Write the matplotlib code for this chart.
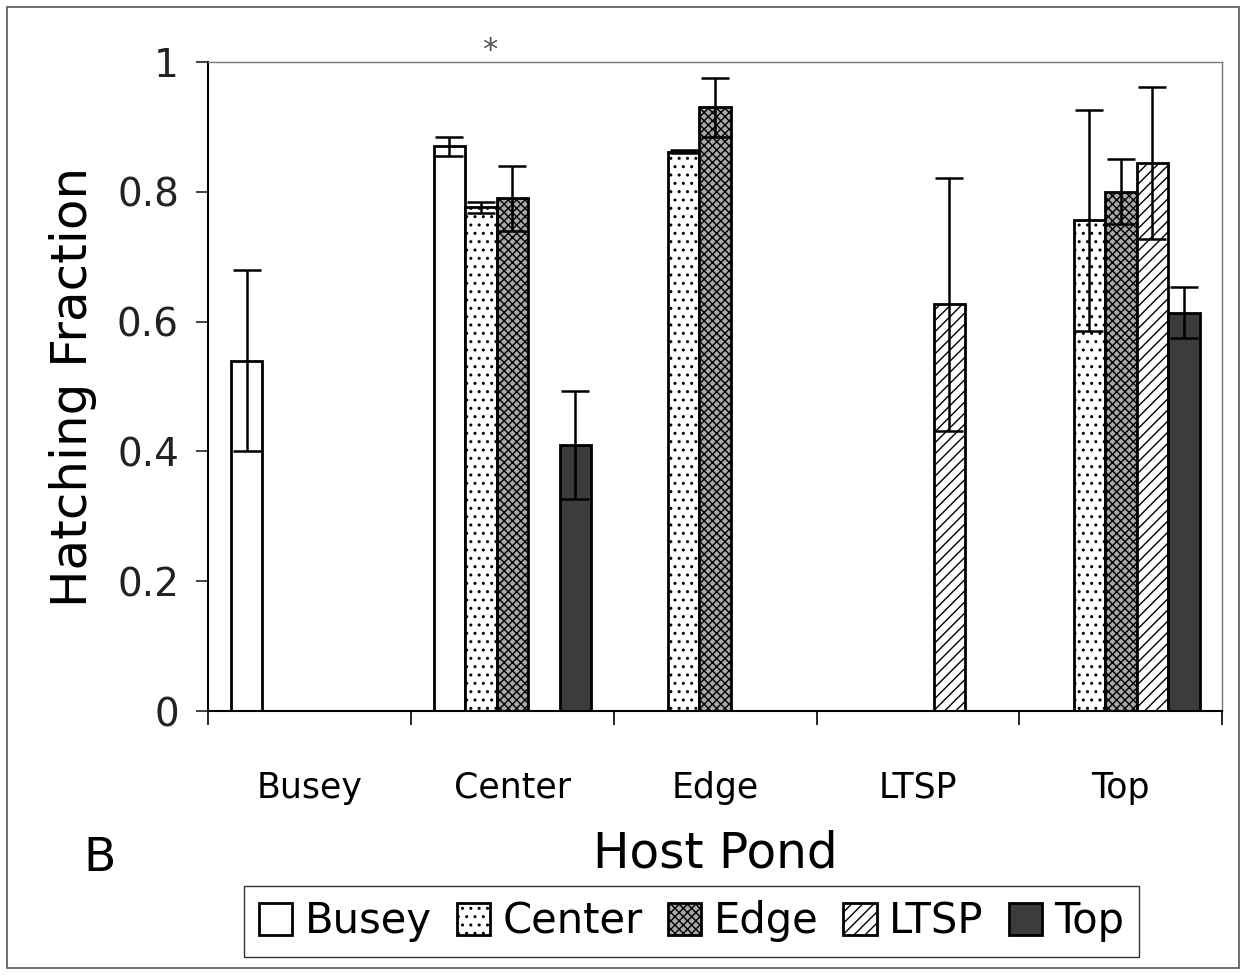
import numpy as np
import matplotlib
matplotlib.use('Agg')
import matplotlib.pyplot as plt
from matplotlib.patches import Rectangle

# host ponds on the x axis, one bar series per source pond
ponds = ['Busey', 'Center', 'Edge', 'LTSP', 'Top']
series = ['Busey', 'Center', 'Edge', 'LTSP', 'Top']

nan = np.nan
busey_vals = [0.54, 0.87, nan, nan, nan]
center_vals = [nan, 0.776, 0.862, nan, 0.756]
edge_vals = [nan, 0.79, 0.93, nan, 0.80]
ltsp_vals = [nan, nan, nan, 0.627, 0.845]
top_vals = [nan, 0.41, nan, nan, 0.614]

busey_err = [0.14, 0.015, nan, nan, nan]
center_err = [nan, 0.008, 0.003, nan, 0.17]
edge_err = [nan, 0.05, 0.045, nan, 0.05]
ltsp_err = [nan, nan, nan, 0.195, 0.117]
top_err = [nan, 0.083, nan, nan, 0.04]

values = [busey_vals, center_vals, edge_vals, ltsp_vals, top_vals]
errors = [busey_err, center_err, edge_err, ltsp_err, top_err]

styles = [
    dict(facecolor='white', hatch=None),
    dict(facecolor='white', hatch='..'),
    dict(facecolor='#a8a8a8', hatch='xxxx'),
    dict(facecolor='white', hatch='///'),
    dict(facecolor='#3c3c3c', hatch=None),
]

plt.rcParams['hatch.linewidth'] = 1.0

fig = plt.figure(figsize=(12.46, 9.76), dpi=100)
ax = fig.add_axes([0.167, 0.2715, 0.814, 0.665])

x = np.arange(len(ponds))
width = 0.155
for i, (name, vals, errs, st) in enumerate(zip(series, values, errors, styles)):
    vals = np.array(vals, dtype=float)
    errs = np.array(errs, dtype=float)
    pos = x + (i - 2) * width
    mask = ~np.isnan(vals)
    ax.bar(pos[mask], vals[mask], width, color=st['facecolor'],
           hatch=st['hatch'], edgecolor='black', linewidth=2, label=name, zorder=2)
    ax.errorbar(pos[mask], vals[mask], yerr=errs[mask], fmt='none',
                ecolor='black', elinewidth=1.8, capsize=10, capthick=1.8, zorder=3)

ax.set_xlim(-0.5, 4.5)
ax.set_ylim(0, 1)
ax.set_yticks([0, 0.2, 0.4, 0.6, 0.8, 1.0])
ax.set_yticklabels(['0', '0.2', '0.4', '0.6', '0.8', '1'])
ax.tick_params(axis='y', labelsize=28, length=9, width=1.2, pad=12, colors='#222222')

ax.set_xticks(x)
ax.set_xticklabels(ponds)
ax.tick_params(axis='x', which='major', length=0, labelsize=25, pad=43)
ax.set_xticks(np.arange(-0.5, 5.0, 1.0), minor=True)
ax.tick_params(axis='x', which='minor', length=10, width=1.2, direction='out')

ax.set_ylabel('Hatching Fraction', fontsize=36, labelpad=14)
ax.set_xlabel('Host Pond', fontsize=35, labelpad=18)

ax.spines['left'].set_linewidth(1.5)
ax.spines['bottom'].set_linewidth(1.5)
for s in ['top', 'right']:
    ax.spines[s].set_color('#777777')
    ax.spines[s].set_linewidth(1.0)

# significance mark above Center group
ax.text(1 - 0.11, 1.018, '*', transform=ax.get_xaxis_transform(),
        ha='center', va='center', fontsize=22, color='#555555')

fig.text(0.08, 0.12, 'B', fontsize=34, ha='center', va='center')

leg = fig.legend(loc='center', bbox_to_anchor=(0.555, 0.056), ncol=5,
                 fontsize=30, frameon=True, fancybox=False, edgecolor='black',
                 handlelength=0.8, handleheight=0.8, handletextpad=0.3,
                 columnspacing=0.6, borderpad=0.35)
leg.get_frame().set_linewidth(1.0)

# outer frame round the figure
fig.patches.append(Rectangle((0.006, 0.008), 0.988, 0.985, transform=fig.transFigure,
                             fill=False, edgecolor='#555555', linewidth=1.2))

fig.savefig('out.png', dpi=100)
